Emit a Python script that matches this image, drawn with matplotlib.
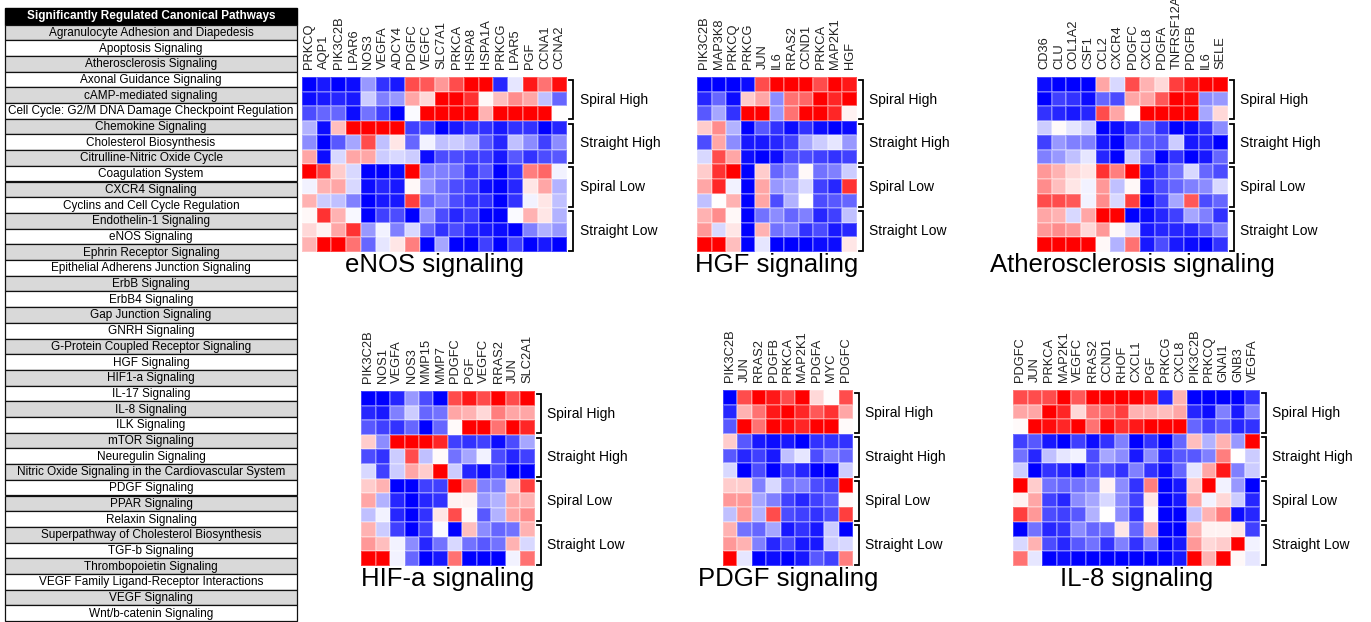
import numpy as np
import matplotlib
matplotlib.use('Agg')
import matplotlib.pyplot as plt
from matplotlib.patches import Rectangle

plt.rcParams['font.family'] = ['Liberation Sans', 'DejaVu Sans']

# pathway table
pathways = ["Agranulocyte Adhesion and Diapedesis", "Apoptosis Signaling", "Atherosclerosis Signaling",
            "Axonal Guidance Signaling", "cAMP-mediated signaling",
            "Cell Cycle: G2/M DNA Damage Checkpoint Regulation", "Chemokine Signaling",
            "Cholesterol Biosynthesis", "Citrulline-Nitric Oxide Cycle", "Coagulation System",
            "CXCR4 Signaling", "Cyclins and Cell Cycle Regulation", "Endothelin-1 Signaling",
            "eNOS Signaling", "Ephrin Receptor Signaling", "Epithelial Adherens Junction Signaling",
            "ErbB Signaling", "ErbB4 Signaling", "Gap Junction Signaling", "GNRH Signaling",
            "G-Protein Coupled Receptor Signaling", "HGF Signaling", "HIF1-a Signaling",
            "IL-17 Signaling", "IL-8 Signaling", "ILK Signaling", "mTOR Signaling",
            "Neuregulin Signaling", "Nitric Oxide Signaling in the Cardiovascular System",
            "PDGF Signaling", "PPAR Signaling", "Relaxin Signaling",
            "Superpathway of Cholesterol Biosynthesis", "TGF-b Signaling",
            "Thrombopoietin Signaling", "VEGF Family Ligand-Receptor Interactions",
            "VEGF Signaling", "Wnt/b-catenin Signaling"]

groups = ["Spiral High", "Straight High", "Spiral Low", "Straight Low"]

# eNOS signaling
enos_genes = ["PRKCQ", "AQP1", "PIK3C2B", "LPAR6", "NOS3", "VEGFA", "ADCY4", "PDGFC", "VEGFC",
              "SLC7A1", "PRKCA", "HSPA8", "HSPA1A", "PRKCG", "LPAR5", "PGF", "CCNA1", "CCNA2"]
enos_vals = [
    [-1, -0.9, -1, -0.95, -0.4, -0.8, -0.9, 0.7, 0.65, 0.4, 0.7, 1, 1, -0.85, -0.1, 0.9, 0.55, 0.95],
    [-0.95, -0.9, -0.85, -0.9, -0.2, -0.5, -0.4, 0.35, 0.15, 1, 1, 0.8, 0.03, 0.25, 0.45, 0.35, -0.25, -0.6],
    [-0.7, -0.6, -0.6, -0.95, -0.55, -0.75, -1, -0.02, 1, 1, 1, 1, 0.3, 1, 1, 1, 1, 0.0],
    [-0.3, -0.95, 0.25, 1, 1, 1, 1, -0.75, -0.75, -1, -0.9, -0.8, -0.8, -0.9, -0.8, -0.8, -1, -0.85],
    [-0.45, -1, -0.65, -0.35, 0.7, -0.25, 0.1, -0.6, -0.05, -0.25, -0.2, -0.3, -0.65, -0.85, -0.25, -0.45, -0.75, -0.45],
    [0.35, -0.95, -0.15, 0.35, 0.35, -0.2, -0.15, -0.2, -0.95, -0.7, -0.7, -0.75, -0.75, -0.9, -0.65, -0.8, -0.7, -0.65],
    [1, 0.75, 0.2, -0.15, -1, -1, -0.95, 1, -0.5, -0.5, -0.55, -0.8, -0.65, -1, -0.8, 0.5, 0.6, -0.05],
    [-0.05, 0.3, 0.35, -0.15, -0.95, -0.85, -0.9, 0.03, -0.4, -0.55, -0.7, -0.75, -0.95, -1, -0.85, 0.1, 0.35, -0.3],
    [0.3, -0.2, -0.25, -0.5, -1, -0.9, -0.9, 0.75, -0.6, -0.5, -0.7, -0.8, -0.8, -1, -0.8, -0.05, 0.1, -0.25],
    [0.03, 0.8, 0.3, -0.03, -1, -0.75, -0.7, -1, -0.4, -0.7, -0.85, -0.75, -1, -1, -0.02, 0.3, 0.1, -0.3],
    [0.15, 0.05, 0.35, 0.8, -0.4, -0.05, -0.5, -0.15, -0.6, -0.8, -0.7, -0.85, -0.9, -0.95, -1, -0.5, -0.3, -0.4],
    [0.3, 1, 1, 0.55, -0.6, -0.1, 0.1, 0.5, -1, -0.35, -1, -1, -0.75, -1, -0.75, -1, -0.9, -1],
]

# HGF signaling
hgf_genes = ["PIK3C2B", "MAP3K8", "PRKCQ", "PRKCG", "JUN", "IL6", "RRAS2", "CCND1", "PRKCA", "MAP2K1", "HGF"]
hgf_vals = [
    [-1, -1, -1, -0.95, 0.7, 1, 1, 1, 0.7, 1, 0.9],
    [-0.85, -0.6, -0.95, 0.2, 0.35, -0.45, 0.55, 0.6, 1, 0.85, 1],
    [-0.65, -0.35, -0.8, 1, 1, -0.4, 0.55, 1, 1, 0.85, 0.05],
    [0.2, 0.45, -0.3, -1, -0.65, -0.8, -0.95, -0.8, -0.95, -1, -0.95],
    [-0.7, 0.35, -0.45, -0.9, -0.9, -0.85, -0.75, -0.35, -0.2, -0.1, -0.4],
    [-0.15, 0.7, 0.35, -0.95, -1, -0.95, -0.7, -0.7, -0.75, -0.8, -0.75],
    [0.2, 0.8, 1, -1, 0.2, -0.6, -0.5, 0.03, -0.55, -0.5, -0.2],
    [0.35, 0.85, -0.05, -1, 0.35, -0.4, -0.35, -0.15, -0.75, -0.85, 0.8],
    [-0.25, 0.0, 0.3, -1, 0.35, -0.7, -0.3, 0.0, -0.7, -0.65, -0.6],
    [0.3, 0.45, 0.03, -1, -0.55, -0.45, -0.6, -0.5, -0.85, -0.75, -0.25],
    [0.4, -0.15, 0.1, -1, 0.3, -0.55, -0.5, -0.8, -0.7, -0.9, -0.85],
    [1, 1, 0.25, -1, -0.1, -1, -1, -1, -0.95, -0.95, 0.1],
]

# Atherosclerosis signaling
ath_genes = ["CD36", "CLU", "COL1A2", "CSF1", "CCL2", "CXCR4", "PDGFC", "CXCL8", "PDGFA",
             "TNFRSF12A", "PDGFB", "IL6", "SELE"]
ath_vals = [
    [-0.95, -1, -1, -1, 0.35, -0.15, 0.7, 0.3, 0.15, 0.75, 0.9, 1, 1],
    [-1, -0.75, -0.8, -0.95, -0.6, -0.7, 0.35, 0.35, 0.65, 1, 0.95, -0.45, -0.4],
    [-0.8, -0.85, -0.9, -0.85, 0.7, 0.35, 0.0, 1, 1, 1, 1, -0.35, 0.15],
    [-0.2, 0.02, -0.1, -0.2, -1, -0.95, -0.8, -0.6, -0.8, -1, -0.95, -0.8, -0.45],
    [-0.75, -0.4, -0.5, -0.5, -0.9, -1, -0.6, -0.65, -0.65, -0.2, -0.9, -0.85, -1],
    [-0.5, -0.4, -0.25, -0.1, -0.85, -1, -0.2, -0.6, -1, -0.8, -1, -0.9, -0.6],
    [0.4, 0.3, 0.15, 0.1, 0.8, 0.5, 1, -0.9, -0.75, -0.55, -0.15, -0.6, -0.7],
    [0.45, 0.25, 0.1, -0.05, 0.4, -0.25, 0.03, -0.9, -0.7, -0.6, -0.5, -0.45, -0.15],
    [0.7, 0.7, 0.65, -0.05, 0.45, -0.15, 0.75, -1, -0.75, -0.35, 0.65, -0.7, -0.6],
    [0.35, 0.3, -0.15, 0.35, 1, 1, -1, -0.95, -0.85, -0.75, -0.35, -0.5, -0.8],
    [0.4, 0.45, 0.4, 0.15, 0.4, 0.03, -0.15, -0.9, -0.85, -0.85, -0.85, -0.7, -0.5],
    [1, 1, 1, 1, 0.03, -0.3, 0.55, -0.9, -0.7, -0.9, -0.95, -1, -0.8],
]

# HIF-a signaling
hif_genes = ["PIK3C2B", "NOS1", "VEGFA", "NOS3", "MMP15", "MMP7", "PDGFC", "PGF", "VEGFC",
             "RRAS2", "JUN", "SLC2A1"]
hif_vals = [
    [-1, -1, -0.85, -0.4, -0.7, -1, 0.7, 0.9, 0.7, 1, 0.7, 1],
    [-0.85, -0.9, -0.5, -0.2, -0.6, -0.55, 0.35, 0.3, 0.15, 0.5, 0.35, 0.35],
    [-0.65, -0.75, -0.8, -0.6, -1, -0.6, 0.02, 1, 1, 0.55, 1, 0.85],
    [0.2, -0.45, 1, 1, 1, 0.85, -0.75, -0.8, -0.75, -0.95, -0.7, -0.35],
    [-0.7, -0.8, -0.2, 0.7, -0.25, 0.02, -0.55, -0.35, -0.05, -0.7, -0.85, -0.75],
    [-0.15, -0.75, -0.2, 0.35, 0.2, 1, -0.2, -0.85, -0.95, -0.7, -1, -1],
    [0.2, 0.3, -1, -1, -0.75, -0.75, 1, 0.5, -0.5, -0.5, 0.2, 0.75],
    [0.35, -0.3, -0.85, -1, -0.85, -0.8, 0.05, 0.05, -0.4, -0.3, 0.35, 0.3],
    [-0.25, -0.05, -0.85, -1, -0.8, 0.1, 0.7, 0.02, -0.65, -0.3, 0.35, 0.45],
    [0.3, -0.2, -0.75, -1, -0.75, -0.02, -1, 0.25, -0.45, -0.6, -0.55, 0.3],
    [0.4, 0.25, -0.05, -0.45, -0.85, -0.55, -0.15, -0.55, -0.65, -0.55, 0.3, -0.15],
    [1, 1, -0.05, -0.6, -1, -0.9, 0.55, -1, -1, -1, -0.05, 0.55],
]

# PDGF signaling
pdgf_genes = ["PIK3C2B", "JUN", "RRAS2", "PDGFB", "PRKCA", "MAP2K1", "PDGFA", "MYC", "PDGFC"]
pdgf_vals = [
    [-1, 0.7, 1, 0.9, 0.7, 1, 0.15, 0.01, 0.7],
    [-0.85, 0.3, 0.55, 0.9, 1, 0.85, 0.65, 0.8, 0.35],
    [-0.65, 1, 0.55, 1, 0.95, 0.85, 1, 1, 0.02],
    [0.2, -0.65, -0.9, -0.95, -0.9, -1, -0.8, -0.8, -0.8],
    [-0.65, -0.85, -0.75, -0.9, -0.25, -0.1, -0.7, -0.5, -0.6],
    [-0.15, -1, -0.7, -1, -0.75, -0.85, -1, -1, -0.2],
    [0.2, 0.2, -0.5, -0.15, -0.55, -0.5, -0.7, -0.75, 1],
    [0.4, 0.4, -0.35, -0.5, -0.75, -0.85, -0.75, -0.65, 0.03],
    [-0.25, 0.4, -0.3, 0.7, -0.7, -0.75, -0.8, -0.7, 0.75],
    [0.3, -0.55, -0.6, -0.35, -0.9, -0.8, -0.9, -0.2, -1],
    [0.4, 0.3, -0.5, -0.85, -0.7, -0.9, -0.9, -0.2, -0.15],
    [1, -0.1, -1, -0.95, -1, -0.9, -0.65, -0.75, 0.5],
]

# IL-8 signaling
il8_genes = ["PDGFC", "JUN", "PRKCA", "MAP2K1", "VEGFC", "RRAS2", "CCND1", "RHOF", "CXCL1", "PGF",
             "PRKCG", "CXCL8", "PIK3C2B", "PRKCQ", "GNAI1", "GNB3", "VEGFA"]
il8_vals = [
    [0.7, 0.7, 0.7, 1, 0.65, 1, 1, 1, 1, 0.9, -0.85, 0.3, -1, -1, -1, -1, -0.8],
    [0.35, 0.35, 1, 0.85, 0.15, 0.55, 0.6, 0.75, 0.3, 0.3, 0.25, 0.35, -0.85, -0.95, -0.5, -0.9, -0.5],
    [0.02, 1, 0.95, 0.85, 1, 0.55, 1, 0.8, 0.9, 1, 1, 1, -0.6, -0.75, -0.65, -0.85, -0.8],
    [-0.75, -0.65, -0.9, -1, -0.75, -0.95, -0.8, -0.5, -1, -0.8, -1, -0.6, 0.25, -0.3, 0.3, -0.4, 1],
    [-0.55, -0.85, -0.25, -0.1, -0.05, -0.7, -0.35, -0.45, -0.9, -0.45, -0.85, -0.65, -0.65, -0.5, 0.5, 0.0, -0.2],
    [-0.2, -1, -0.8, -0.85, -0.95, -0.7, -0.7, -0.8, -0.5, -0.8, -0.95, -0.6, -0.1, 0.35, 0.9, -0.5, -0.2],
    [1, 0.2, -0.55, -0.6, -0.55, -0.5, 0.05, -0.45, -0.8, 0.5, -1, -0.9, 0.2, 1, -0.05, -0.4, -1],
    [0.05, 0.35, -0.75, -0.85, -0.45, -0.35, -0.15, -0.45, -0.75, 0.1, -1, -0.9, 0.35, -0.05, 0.15, -0.2, -0.85],
    [0.75, 0.4, -0.7, -0.75, -0.65, -0.3, 0.0, -0.45, -0.8, 0.02, -1, -1, -0.25, 0.3, 0.5, -0.95, -0.85],
    [-1, -0.55, -0.85, -0.8, -0.45, -0.6, -0.55, 0.1, -0.6, 0.3, -1, -1, 0.3, 0.05, 0.05, 0.1, -0.75],
    [-0.15, 0.3, -0.7, -0.85, -0.65, -0.55, -0.8, -0.5, -0.8, -0.5, -1, -0.9, 0.4, 0.15, 0.2, 1, -0.05],
    [0.55, -0.1, -1, -0.95, -1, -1, -1, -1, -1, -1, -1, -0.9, 1, 0.3, 1, 0.03, -0.1],
]

W, H = 1371, 622
fig = plt.figure(figsize=(W / 100, H / 100), dpi=100)


def px_axes(x0, y0, x1, y1):
    # axes placed by pixel box (top-left origin)
    return fig.add_axes([x0 / W, 1 - y1 / H, (x1 - x0) / W, (y1 - y0) / H])


# ---- table on the left ----
tab = px_axes(0, 0, 300, H)
tab.set_xlim(0, 300)
tab.set_ylim(H, 0)
tab.axis('off')
tx0, tx1 = 5, 297
head_top, head_h, row_h = 8, 16.5, 15.7
tab.add_patch(Rectangle((tx0, head_top), tx1 - tx0, head_h, facecolor='black', edgecolor='black'))
tab.text((tx0 + tx1) / 2, head_top + head_h / 2, "Significantly Regulated Canonical Pathways",
         color='white', fontsize=8.5, fontweight='bold', ha='center', va='center')
for i, name in enumerate(pathways):
    y = head_top + head_h + i * row_h
    fc = '#d9d9d9' if i % 2 == 0 else 'white'
    tab.add_patch(Rectangle((tx0, y), tx1 - tx0, row_h, facecolor=fc, edgecolor='#111111', lw=0.9))
    tab.text((tx0 + tx1) / 2, y + row_h / 2 + 0.5, name, fontsize=8.5, ha='center', va='center')


# ---- heatmaps ----
def heatmap(box, genes, vals, title):
    data = np.array(vals)
    nr, nc = data.shape
    ax = px_axes(*box)
    ax.pcolormesh(data, cmap='bwr', vmin=-1, vmax=1, edgecolors=(1, 1, 1, 0.25), linewidth=0.3)
    ax.set_xlim(0, nc)
    ax.set_ylim(nr, 0)
    ax.xaxis.tick_top()
    ax.set_xticks(np.arange(nc) + 0.5)
    ax.set_xticklabels(genes, rotation=90, fontsize=9.3, color='#222222')
    ax.tick_params(axis='x', length=0, pad=5.5)
    ax.set_yticks([])
    for s in ax.spines.values():
        s.set_visible(False)
    for k, g in enumerate(groups):
        top, bot = 3 * k + 0.2, 3 * k + 2.9
        xb = nc + 0.4
        ax.plot([nc + 0.12, xb, xb, nc + 0.12], [top, top, bot, bot], color='black', lw=1.3,
                clip_on=False, solid_joinstyle='miter')
        ax.text(nc + 0.85, 3 * k + 1.55, g, fontsize=10, ha='left', va='center', clip_on=False)
    ax.annotate(title, xy=(0.5, 0), xycoords='axes fraction', xytext=(0, -1),
                textcoords='offset points', ha='center', va='top', fontsize=18.5)


heatmap((302, 77, 567, 252), enos_genes, enos_vals, "eNOS signaling")
heatmap((697, 77, 857, 252), hgf_genes, hgf_vals, "HGF signaling")
heatmap((1037, 77, 1228, 252), ath_genes, ath_vals, "Atherosclerosis signaling")
heatmap((361, 391, 535, 566), hif_genes, hif_vals, "HIF-a signaling")
heatmap((723, 390, 853, 566), pdgf_genes, pdgf_vals, "PDGF signaling")
heatmap((1013, 390, 1260, 566), il8_genes, il8_vals, "IL-8 signaling")

fig.savefig('out.png', dpi=100)
